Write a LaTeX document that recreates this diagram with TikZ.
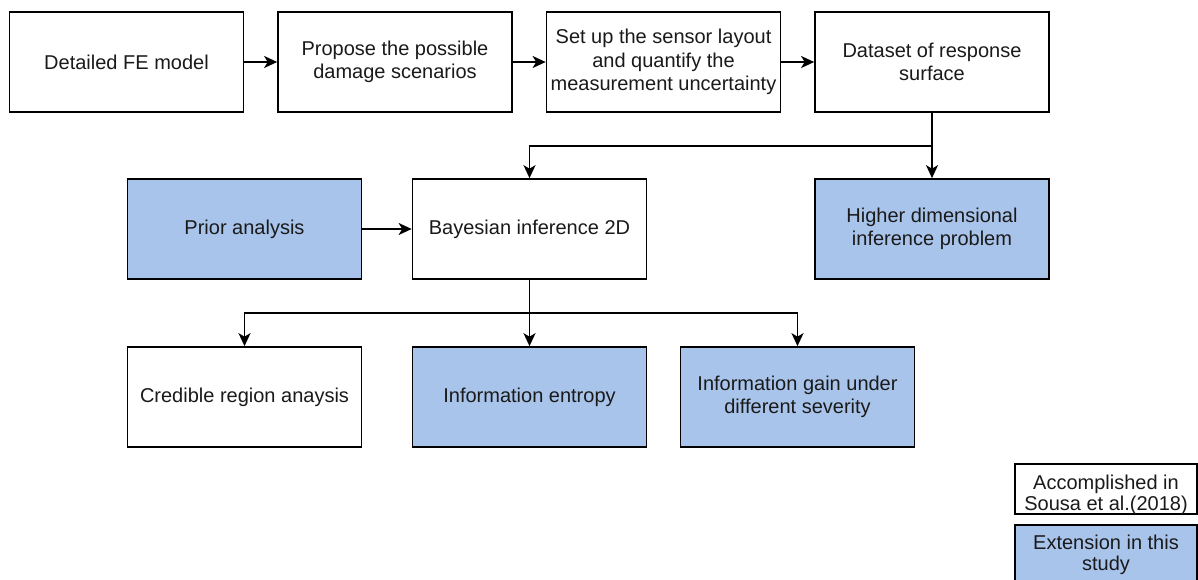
\documentclass[tikz,border=0pt]{standalone}
\usepackage{fontspec}
\setmainfont{Liberation Sans}
\usetikzlibrary{arrows.meta}
\definecolor{extblue}{HTML}{A9C4EB}
\definecolor{txtcol}{HTML}{1A1A1A}
\tikzset{
  box/.style={draw=black, line width=1.7pt, fill=white, minimum width=234pt, minimum height=100pt,
    inner sep=2pt, align=center, text=txtcol, font=\fontsize{20}{23.5}\selectfont},
  extbox/.style={box, fill=extblue},
  legbox/.style={draw=black, line width=1.7pt, minimum width=182pt, minimum height=50pt, inner sep=0pt},
  legtext/.style={align=center, text=txtcol, inner sep=0pt, font=\fontsize{20}{20.5}\selectfont},
  conn/.style={line width=1.7pt, draw=black},
  arr/.style={conn, -{Stealth[length=13pt, width=12pt, inset=3.5pt]}}
}
\begin{document}
\begin{tikzpicture}[x=1pt, y=-1pt]
\clip (0,0) rectangle (1198,579);
\fill[white] (0,0) rectangle (1198,579);
% top row
\node[box] (fe) at (126.5,62) {Detailed FE model};
\node[box] (dmg) at (395,62) {Propose the possible\\damage scenarios};
\node[box] (sens) at (663.5,62) {Set up the sensor layout\\and quantify the\\measurement uncertainty};
\node[box] (data) at (932,62) {Dataset of response\\surface};
% second row
\node[extbox] (prior) at (244.5,229) {Prior analysis};
\node[box] (bayes) at (529.5,229) {Bayesian inference 2D};
\node[extbox] (high) at (932,229) {Higher dimensional\\inference problem};
% third row
\node[box] (cred) at (244.5,397) {Credible region anaysis};
\node[extbox] (ent) at (529.5,397) {Information entropy};
\node[extbox] (gain) at (797.5,397) {Information gain under\\different severity};
% connectors
\draw[arr] (fe) -- (dmg);
\draw[arr] (dmg) -- (sens);
\draw[arr] (sens) -- (data);
\coordinate (j1) at (932,146);
\draw[arr] (data) -- (high);
\draw[arr] (j1) -| (bayes.north);
\draw[arr] (prior) -- (bayes);
\coordinate (j2) at (529.5,313);
\draw[arr] (bayes) -- (ent);
\draw[arr] (j2) -| (cred.north);
\draw[arr] (j2) -| (gain.north);
% legend
\node[legbox, fill=white] (accbox) at (1106,489) {};
\node[legtext] (acc) at (1106,495) {Accomplished in\\Sousa et al.(2018)};
\node[legbox, fill=extblue, minimum height=60pt] (extbx) at (1106,555) {};
\node[legtext] (ext) at (1106,555) {Extension in this\\study};
\end{tikzpicture}
\end{document}
